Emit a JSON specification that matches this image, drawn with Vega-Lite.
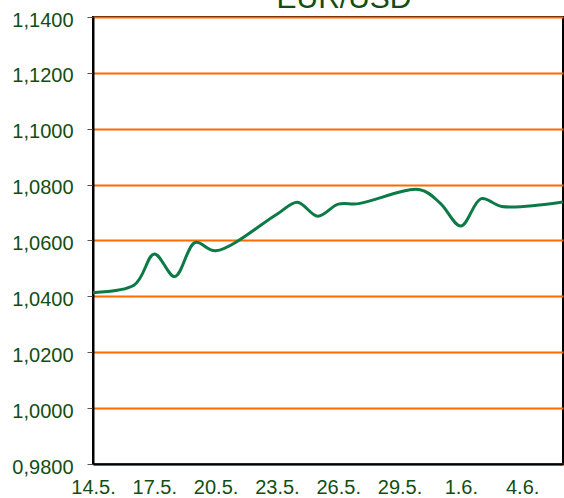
{
  "$schema": "https://vega.github.io/schema/vega-lite/v6.json",
  "width": 470,
  "height": 447,
  "autosize": {"type": "pad"},
  "padding": {"left": 11, "top": -16, "right": 1, "bottom": 0},
  "background": "white",
  "title": {"text": "EUR/USD", "fontSize": 30, "font": "Liberation Sans", "fontWeight": "normal", "color": "#134d14", "baseline": "alphabetic", "offset": -28, "dx": 16, "anchor": "middle"},
  "config": {
    "locale": {"number": {"decimal": ",", "thousands": ".", "grouping": [3], "currency": ["", " €"]}},
    "view": {"stroke": "#000000", "strokeWidth": 2},
    "font": "Liberation Sans"
  },
  "data": {"values": [
    {"date": "2022-05-13", "rate": 1.0413},
    {"date": "2022-05-16", "rate": 1.0440},
    {"date": "2022-05-17", "rate": 1.0552},
    {"date": "2022-05-18", "rate": 1.0471},
    {"date": "2022-05-19", "rate": 1.0593},
    {"date": "2022-05-20", "rate": 1.0563},
    {"date": "2022-05-23", "rate": 1.0694},
    {"date": "2022-05-24", "rate": 1.0737},
    {"date": "2022-05-25", "rate": 1.0687},
    {"date": "2022-05-26", "rate": 1.0730},
    {"date": "2022-05-27", "rate": 1.0732},
    {"date": "2022-05-30", "rate": 1.0782},
    {"date": "2022-05-31", "rate": 1.0733},
    {"date": "2022-06-01", "rate": 1.0652},
    {"date": "2022-06-02", "rate": 1.0750},
    {"date": "2022-06-03", "rate": 1.0722},
    {"date": "2022-06-06", "rate": 1.0738}
  ]},
  "mark": {"type": "line", "interpolate": "catmull-rom", "color": "#0b7a47", "strokeWidth": 3, "clip": true},
  "encoding": {
    "x": {
      "field": "date", "type": "temporal", "timeUnit": "utcyearmonthdate",
      "scale": {"domain": [{"year": 2022, "month": 5, "date": 14, "utc": true}, {"year": 2022, "month": 6, "date": 6, "utc": true}]},
      "axis": {
        "title": null, "grid": false, "ticks": false,
        "domainColor": "#000000", "domainWidth": 2,
        "values": [
          {"year": 2022, "month": 5, "date": 14, "utc": true},
          {"year": 2022, "month": 5, "date": 17, "utc": true},
          {"year": 2022, "month": 5, "date": 20, "utc": true},
          {"year": 2022, "month": 5, "date": 23, "utc": true},
          {"year": 2022, "month": 5, "date": 26, "utc": true},
          {"year": 2022, "month": 5, "date": 29, "utc": true},
          {"year": 2022, "month": 6, "date": 1, "utc": true},
          {"year": 2022, "month": 6, "date": 4, "utc": true}
        ],
        "labelExpr": "utcFormat(datum.value, '%-d.%-m.')",
        "labelFontSize": 20, "labelColor": "#134d14", "labelPadding": 13,
        "labelFlush": false, "labelOverlap": false
      }
    },
    "y": {
      "field": "rate", "type": "quantitative",
      "scale": {"domain": [0.98, 1.14], "zero": false, "nice": false},
      "axis": {
        "title": null,
        "values": [0.98, 1.0, 1.02, 1.04, 1.06, 1.08, 1.1, 1.12, 1.14],
        "format": ".4f",
        "grid": true, "gridColor": "#ff6a00", "gridWidth": 2,
        "domainColor": "#000000", "domainWidth": 2,
        "tickColor": "#555555", "tickSize": 6, "tickWidth": 1,
        "labelFontSize": 20, "labelColor": "#134d14", "labelPadding": 14,
        "labelOffset": 3, "labelFlush": false, "labelOverlap": false
      }
    }
  }
}
